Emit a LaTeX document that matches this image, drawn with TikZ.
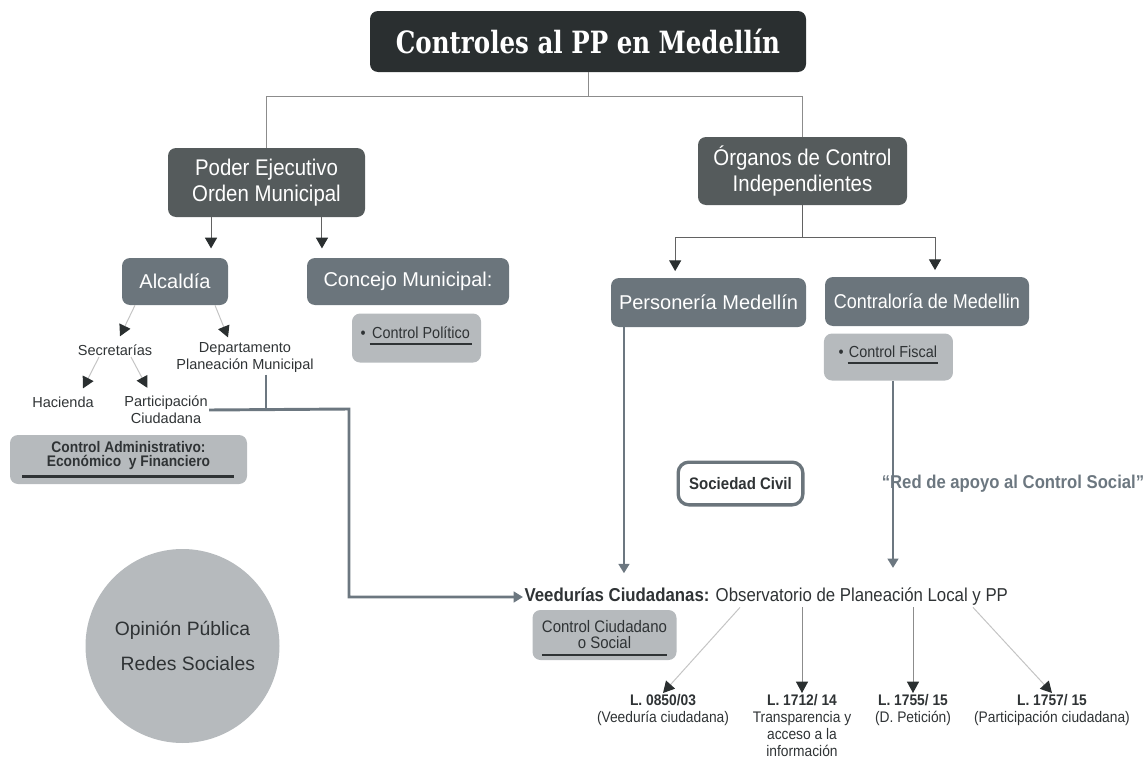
\documentclass[tikz,border=0pt]{standalone}
\usepackage{fontspec}
\setmainfont{Liberation Sans}
\newfontfamily\cond[FakeStretch=0.9]{Liberation Sans}
\newfontfamily\titulo[FakeStretch=0.8]{DejaVu Serif}
\usetikzlibrary{positioning,arrows.meta,shapes.geometric}
\definecolor{negro}{HTML}{2A2F30}
\definecolor{oscuro}{HTML}{555B5C}
\definecolor{pizarra}{HTML}{6B757C}
\definecolor{claro}{HTML}{B6BABD}
\definecolor{linea}{HTML}{6C7780}
\definecolor{fino}{HTML}{8C8C8C}
\definecolor{tenue}{HTML}{C4C4C4}
\definecolor{texto}{HTML}{2F3335}
\tikzset{caja/.style={rounded corners=6pt, inner sep=0pt, align=center}}
\tikzset{titular/.style={caja, fill=negro, text=white, minimum width=327pt, minimum height=45.75pt, font=\titulo\bfseries\fontsize{23}{27}\selectfont}}
\tikzset{rama/.style={caja, fill=oscuro, text=white, font=\cond\fontsize{17}{19.5}\selectfont}}
\tikzset{ente/.style={caja, fill=pizarra, text=white, minimum height=35.25pt, font=\fontsize{15}{18}\selectfont}}
\tikzset{gris/.style={caja, fill=claro, text=texto, font=\cond\fontsize{12}{14.4}\selectfont}}
\tikzset{etiqueta/.style={inner sep=1pt, align=center, text=texto, font=\fontsize{10.9}{12.75}\selectfont}}
\tikzset{ley/.style={inner sep=1pt, align=center, anchor=north, text=texto, font=\cond\fontsize{11.5}{12.75}\selectfont}}
\tikzset{arista/.style={draw=fino, line width=0.75pt}}
\tikzset{flecha/.style={arista, -{Triangle[width=9pt, length=8pt, color=negro]}}}
\tikzset{sesgo/.style={draw=tenue, line width=0.75pt, -{Triangle[width=9pt, length=8.5pt, color=negro]}}}
\tikzset{grueso/.style={draw=linea, line width=2.2pt, -{Triangle[width=8pt, length=7pt]}}}
\tikzset{tramo/.style={draw=linea, line width=2.2pt}}
\newcommand{\subraya}[2]{\begin{tabular}[t]{@{}c@{}}#2\\[-9pt]\rule{#1}{2pt}\end{tabular}}

\begin{document}
\begin{tikzpicture}[x=0.75pt, y=-0.75pt]
\useasboundingbox (0,0) rectangle (1147,760);
\node[titular] (titulo) at (588,41.5) {Controles al PP en Medellín};
\node[rama, minimum width=147.75pt, minimum height=51.75pt] (ejecutivo) at (266.5,182.5) {Poder Ejecutivo\\Orden Municipal};
\node[rama, minimum width=156.75pt, minimum height=51pt] (organos) at (802.5,171) {Órganos de Control\\Independientes};
\node[ente, minimum width=79.5pt] (alcaldia) at (175,281.5) {Alcaldía};
\node[ente, minimum width=151.5pt] (concejo) at (408,281.5) {Concejo Municipal:};
\node[gris, minimum width=96.75pt, minimum height=36.75pt, below=6pt of concejo, xshift=6.4pt] (politico) {\textbullet\ \subraya{77pt}{Control Político}};
\node[ente, minimum width=146.25pt, minimum height=36.75pt] (personeria) at (708.5,302.5) {Personería Medellín};
\node[ente, minimum width=153pt, minimum height=36.75pt, font=\cond\fontsize{15}{18}\selectfont] (contraloria) at (927,301.5) {Contraloría de Medellin};
\node[gris, minimum width=96.75pt, minimum height=35.25pt, below=5.25pt of contraloria, xshift=-28.9pt] (fiscal) {\textbullet\ \subraya{68pt}{Control Fiscal}};

\node[etiqueta] (secretarias) at (115,350) {Secretarías};
\node[etiqueta] (departamento) at (245,358) {Departamento\\Planeación Municipal};
\node[etiqueta] (hacienda) at (63,402) {Hacienda};
\node[etiqueta] (participacion) at (166,410) {Participación\\Ciudadana};
\node[gris, minimum width=177.75pt, minimum height=36.75pt, font=\cond\bfseries\fontsize{11.5}{10.5}\selectfont] (administrativo) at (128.5,459.5) {Control Administrativo:\\Económico\ \ y Financiero\\[-1.5pt]\rule{159pt}{2pt}};

\node[caja, draw=pizarra, line width=2.5pt, fill=white, rounded corners=8pt, minimum width=93.5pt, minimum height=32pt, text=texto, font=\cond\bfseries\fontsize{12.5}{15}\selectfont] (civil) at (740.5,483.5) {Sociedad Civil};
\node[text=linea, font=\cond\bfseries\fontsize{13.9}{16}\selectfont] (apoyo) at (1013,484) {“Red de apoyo al Control Social”};
\node[anchor=west, inner sep=1pt, text=texto, font=\cond\fontsize{14}{16}\selectfont] (veedurias) at (523,597) {\textbf{Veedurías Ciudadanas:} Observatorio de Planeación Local y PP};
\node[gris, minimum width=108pt, minimum height=37.5pt, font=\cond\fontsize{12.5}{12}\selectfont] (ciudadano) at (604.5,635) {\rule{0pt}{14pt}Control Ciudadano\\o Social\\[-6pt]\rule{94pt}{2pt}};
\node[circle, fill=claro, minimum size=145.5pt, inner sep=0pt, align=center, text=texto, font=\fontsize{14.5}{26}\selectfont] (opinion) at (182.5,646) {Opinión Pública\\\hspace*{8pt}Redes Sociales};

\node[ley] (ley1) at (663,693) {\textbf{L. 0850/03}\\(Veeduría ciudadana)};
\node[ley] (ley2) at (802,693) {\textbf{L. 1712/ 14}\\Transparencia y\\acceso a la\\información};
\node[ley] (ley3) at (913,693) {\textbf{L. 1755/ 15}\\(D. Petición)};
\node[ley] (ley4) at (1052,693) {\textbf{L. 1757/ 15}\\(Participación ciudadana)};

\coordinate (reparto) at (588,96);
\coordinate (bifurca) at (802.5,237);
\coordinate (codo) at (266,409);
\coordinate (quiebre) at (349,409);

\draw[arista] (titulo.south) -- (reparto);
\draw[arista] (reparto) -| (ejecutivo.north);
\draw[arista] (reparto) -| (organos.north);
\draw[flecha, draw=fino!70!black, shorten >=7pt] ([xshift=-41.6pt]ejecutivo.south) -- ([xshift=-41.6pt]ejecutivo.south |- alcaldia.north);
\draw[flecha, draw=fino!70!black, shorten >=7pt] ([xshift=41.6pt]ejecutivo.south) -- ([xshift=41.6pt]ejecutivo.south |- concejo.north);
\draw[arista, draw=fino!70!black] (organos.south) -- (bifurca);
\draw[flecha, draw=fino!70!black, shorten >=5pt] (bifurca) -| ([xshift=-25pt]personeria.north);
\draw[flecha, draw=fino!70!black, shorten >=5pt] (bifurca) -| ([xshift=6pt]contraloria.north);

\draw[sesgo] ([xshift=-30pt]alcaldia.south) -- ([xshift=3.75pt,yshift=5pt]secretarias.north);
\draw[sesgo] ([xshift=30pt]alcaldia.south) -- ([xshift=-12.75pt,yshift=3pt]departamento.north);
\draw[sesgo] ([xshift=-12pt]secretarias.south) -- ([xshift=15pt,yshift=5pt]hacienda.north);
\draw[sesgo] ([xshift=12pt]secretarias.south) -- ([xshift=-14pt,yshift=5pt]participacion.north);

\draw[tramo] (departamento.south -| codo) -- (codo);
\draw[grueso] (participacion.east) -- (quiebre) |- (veedurias.west);
\draw[grueso, shorten >=10pt] ([xshift=-63.4pt]personeria.south) -- ([xshift=-63.4pt]personeria.south |- veedurias.north);
\draw[grueso, shorten >=14pt] ([xshift=3.4pt]fiscal.south) -- ([xshift=3.4pt]fiscal.south |- veedurias.north);

\draw[sesgo] ([xshift=162.75pt]veedurias.south west) -- (ley1.north);
\draw[sesgo, draw=fino] (veedurias.south -| ley2.north) -- (ley2.north);
\draw[sesgo, draw=fino] (veedurias.south -| ley3.north) -- (ley3.north);
\draw[sesgo] ([xshift=337.5pt]veedurias.south west) -- (ley4.north);
\end{tikzpicture}
\end{document}
